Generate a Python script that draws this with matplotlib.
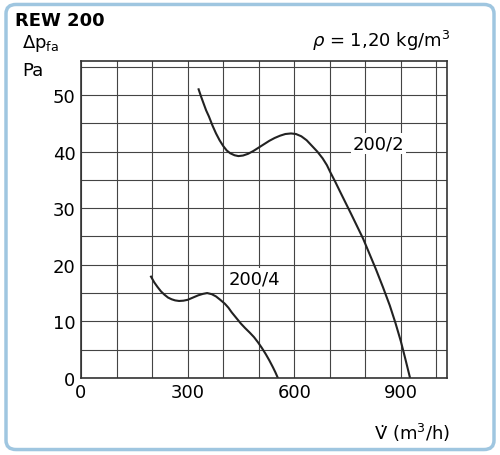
import numpy as np
import matplotlib.pyplot as plt
from matplotlib.patches import FancyBboxPatch

# 200/2 curve
x2 = [331, 338, 345, 352, 360, 370, 380, 390, 400, 410, 420, 432, 443, 456, 470, 485, 500, 515, 530, 545,
      560, 575, 591, 605, 620, 635, 650, 665, 680, 692, 702, 716, 730, 745, 760, 777, 794, 812, 830, 850,
      869, 885, 900, 913, 926]
y2 = [51, 49.7, 48.5, 47.3, 46.2, 44.6, 43.2, 42.0, 41.0, 40.2, 39.7, 39.35, 39.2, 39.3, 39.6, 40.1, 40.7, 41.3, 41.9, 42.4,
      42.8, 43.1, 43.2, 43.1, 42.7, 42.0, 41.0, 40.0, 38.8, 37.6, 36.3, 34.6, 32.8, 30.9, 29.0, 26.8, 24.6, 21.9, 19.2, 16.0,
      12.8, 9.7, 6.5, 3.3, 0]
# 200/4 curve
x4 = [197, 206, 215, 225, 235, 245, 255, 265, 276, 288, 300, 315, 330, 343, 355, 368, 380, 392, 405, 415,
      424, 437, 450, 462, 475, 487, 498, 509, 520, 530, 540, 547, 554]
y4 = [17.9, 16.9, 16.1, 15.3, 14.7, 14.2, 13.9, 13.7, 13.6, 13.65, 13.8, 14.2, 14.6, 14.85, 15.0, 14.8, 14.4, 13.8, 13.1, 12.4,
      11.6, 10.6, 9.6, 8.8, 8.0, 7.2, 6.3, 5.3, 4.2, 3.1, 1.9, 1.0, 0]

xticks = [0, 300, 600, 900]
yticks = [0, 10, 20, 30, 40, 50]

fig = plt.figure(figsize=(5, 4.56), dpi=100)
frame = FancyBboxPatch((0.012, 0.012), 0.976, 0.976, boxstyle="round,pad=0,rounding_size=0.02",
                       transform=fig.transFigure, fill=False, edgecolor="#9fc6e0", linewidth=2.5)
fig.patches.append(frame)

ax = fig.add_axes([0.162, 0.169, 0.732, 0.695])
ax.set_xlim(0, 1030)
ax.set_ylim(0, 56)
ax.set_xticks(range(0, 1001, 100), minor=True)
ax.set_yticks(np.arange(0, 56, 5), minor=True)
ax.set_xticks(xticks)
ax.set_yticks(yticks)
ax.grid(True, which="both", color="#444444", linewidth=0.8)
ax.tick_params(which="both", length=0, labelsize=13, pad=4)
for s in ax.spines.values():
    s.set_linewidth(1.2)
    s.set_color("#333333")

ax.plot(x2, y2, color="#222222", linewidth=1.5)
ax.plot(x4, y4, color="#222222", linewidth=1.5)
ax.text(765, 41.5, "200/2", fontsize=13, ha="left", va="center",
        bbox=dict(facecolor="white", edgecolor="none", pad=1))
ax.text(415, 17.5, "200/4", fontsize=13, ha="left", va="center",
        bbox=dict(facecolor="white", edgecolor="none", pad=1))

fig.text(0.03, 0.955, "REW 200", fontsize=13, fontweight="bold", ha="left", va="center")
fig.text(0.045, 0.905, r"$\Delta$p$_{\mathregular{fa}}$", fontsize=13, ha="left", va="center")
fig.text(0.045, 0.845, "Pa", fontsize=13, ha="left", va="center")
fig.text(0.90, 0.91, r"$\rho$ = 1,20 kg/m$^{\mathregular{3}}$", fontsize=13, ha="right", va="center")
fig.text(0.90, 0.05, "V\u0307 (m$^{\\mathregular{3}}$/h)", fontsize=13, ha="right", va="center")

fig.savefig("out.png", dpi=100)
